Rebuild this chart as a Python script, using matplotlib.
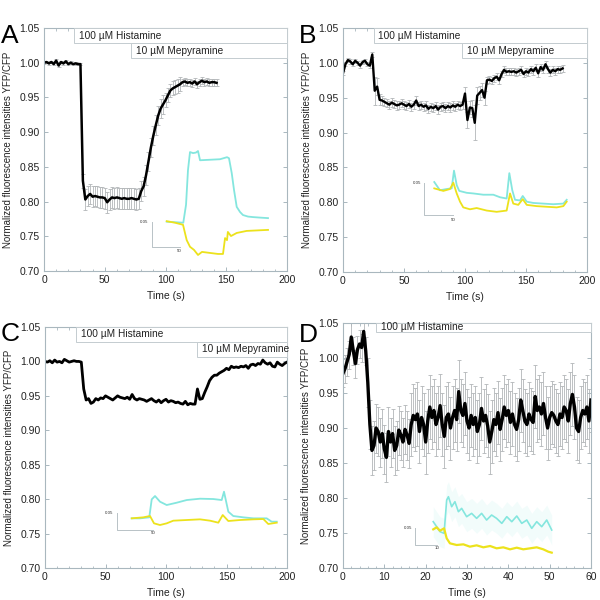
import numpy as np
import matplotlib
matplotlib.use("Agg")
import matplotlib.pyplot as plt
from matplotlib.patches import Rectangle
from matplotlib.ticker import MultipleLocator, FormatStrFormatter
import matplotlib.transforms as mtransforms

plt.rcParams['font.family'] = ['Liberation Sans', 'DejaVu Sans']

# ---- panel A: main trace (2 s steps) ----
a_time = np.arange(0, 143, 2)
a_ratio = [1.000, 1.001, 0.999, 1.001, 0.998, 1.003, 0.996, 1.001, 0.999, 1.002, 0.998, 1.000, 0.998, 0.999, 0.998, 0.998,
           0.830, 0.803, 0.808, 0.811, 0.807, 0.808, 0.807, 0.806, 0.806, 0.805, 0.799, 0.803, 0.806, 0.805, 0.806, 0.805,
           0.804, 0.805, 0.804, 0.804, 0.805, 0.804, 0.803, 0.804,
           0.815, 0.822, 0.838, 0.858, 0.878, 0.895, 0.910, 0.924, 0.934, 0.940, 0.946, 0.953, 0.960, 0.963, 0.965, 0.967,
           0.969, 0.972, 0.973, 0.971, 0.972, 0.970, 0.973, 0.969, 0.972, 0.974, 0.972, 0.973, 0.971, 0.972, 0.972, 0.971]
a_err = [0.002] * 16 + [0.010] + [0.015] * 23 + [0.014] * 10 + [0.010] * 7 + [0.005] * 15

# panel A inset (YFP cyan, CFP yellow); x in s, y in ratio units from the scale bar corner
a_cyan_t = [26.8, 41.6, 56.4, 61.3, 64.8, 68.4, 73.8, 79.0, 82.7, 86.3, 104, 122, 134.5, 138, 142.9, 147, 151.8, 157.7, 163, 172, 181, 193.4, 207.7]
a_cyan_v = [0.050, 0.049, 0.048, 0.083, 0.151, 0.186, 0.184, 0.185, 0.188, 0.170, 0.171, 0.172, 0.176, 0.174, 0.145, 0.112, 0.079, 0.069, 0.063, 0.060, 0.059, 0.058, 0.057]
a_yel_t = [26.8, 41.6, 55.9, 62.5, 68.4, 75.5, 82.7, 89.8, 104, 118.4, 127.3, 131, 134.5, 136, 141.6, 151.8, 169.6, 207.7]
a_yel_v = [0.051, 0.048, 0.044, 0.014, 0.001, -0.005, -0.015, -0.009, -0.011, -0.013, -0.013, 0.018, 0.014, 0.030, 0.022, 0.028, 0.032, 0.034]

# ---- panel B ----
b_time = np.arange(0, 181, 2)
b_ratio = [0.985, 0.998, 1.004, 1.002, 0.998, 1.003, 1.000, 0.996, 1.001, 1.003, 0.998, 0.996, 1.012,
           0.960, 0.966, 0.947, 0.946, 0.944, 0.942, 0.940, 0.943, 0.941, 0.939, 0.940, 0.942, 0.940, 0.938, 0.941,
           0.937, 0.940, 0.946, 0.938, 0.940, 0.937, 0.939, 0.934, 0.937, 0.935, 0.938, 0.933, 0.937, 0.938, 0.935,
           0.938, 0.936, 0.939, 0.937, 0.940, 0.938, 0.940, 0.956, 0.918, 0.936, 0.935, 0.914, 0.953, 0.957, 0.961,
           0.950, 0.975, 0.976, 0.974, 0.978, 0.980, 0.975, 0.984, 0.990, 0.987, 0.988, 0.987, 0.988, 0.986, 0.988,
           0.990, 0.984, 0.988, 0.986, 0.991, 0.988, 0.993, 0.985, 0.994, 0.990, 0.998, 0.991, 0.986, 0.990, 0.988,
           0.991, 0.990, 0.992]
b_err = [0.003] * 13 + [0.020, 0.012, 0.008] + [0.006] * 34 + [0.010, 0.012, 0.010, 0.012, 0.025, 0.012, 0.010, 0.010, 0.010] + [0.005] * 32

b_cyan_t = [17.2, 27, 38.6, 47.2, 51.2, 55.9, 60.3, 73.1, 84.5, 101.7, 119, 130.5, 142, 146.6, 151.7, 156.4, 165, 169.7, 176.6, 188, 205, 222.4, 239.7, 245.5]
b_cyan_v = [0.052, 0.039, 0.041, 0.042, 0.070, 0.047, 0.038, 0.035, 0.034, 0.032, 0.032, 0.028, 0.026, 0.066, 0.039, 0.024, 0.023, 0.030, 0.021, 0.019, 0.018, 0.017, 0.018, 0.024]
b_yel_t = [17.2, 32.8, 44.3, 50, 55.9, 61.6, 67.2, 78.8, 90.3, 107.6, 124.8, 142, 147.8, 153.4, 162, 169.7, 176.6, 193.8, 211, 228.3, 239.7, 245.5]
b_yel_v = [0.042, 0.038, 0.041, 0.051, 0.034, 0.021, 0.012, 0.009, 0.011, 0.007, 0.005, 0.007, 0.034, 0.018, 0.016, 0.025, 0.016, 0.014, 0.013, 0.012, 0.014, 0.021]

# ---- panel C ----
c_time = np.arange(0, 201, 2)
c_ratio = [1.000, 0.999, 1.001, 0.998, 1.002, 0.999, 1.000, 0.998, 1.003, 1.001, 0.999, 1.000, 1.001, 1.000, 1.000, 0.999,
           0.960, 0.944, 0.946, 0.939, 0.941, 0.946, 0.944, 0.947, 0.946, 0.950, 0.948, 0.946, 0.944, 0.947, 0.950,
           0.948, 0.947, 0.946, 0.948, 0.945, 0.952, 0.946, 0.944, 0.946, 0.945, 0.944, 0.942, 0.944, 0.946, 0.943,
           0.941, 0.944, 0.940, 0.943, 0.945, 0.941, 0.943, 0.942, 0.940, 0.941, 0.939, 0.938, 0.942, 0.937, 0.939,
           0.938, 0.938, 0.960, 0.945, 0.946, 0.955, 0.963, 0.972, 0.977, 0.980, 0.980, 0.983, 0.985, 0.987, 0.990,
           0.988, 0.993, 0.991, 0.992, 0.991, 0.993, 0.992, 0.994, 0.990, 0.995, 0.996, 0.994, 0.997, 0.996, 1.002,
           0.998, 0.996, 0.998, 0.993, 0.992, 0.999, 0.996, 0.994, 0.997, 0.999]

c_cyan_t = [20, 31.5, 44.4, 47.8, 52.4, 59.3, 68.6, 82.5, 96.4, 114.9, 133.3, 145, 148.2, 154.2, 161.1, 175, 189, 207.5, 214.4, 221.4]
c_cyan_v = [0.035, 0.035, 0.038, 0.092, 0.102, 0.085, 0.075, 0.082, 0.090, 0.094, 0.093, 0.090, 0.115, 0.055, 0.042, 0.038, 0.035, 0.035, 0.025, 0.025]
c_yel_t = [20, 36.1, 45.4, 51, 59.3, 68.6, 77.8, 96.4, 114.9, 128.8, 140.3, 146.4, 154.2, 170.4, 189, 202.8, 209.7, 221.4]
c_yel_v = [0.035, 0.038, 0.042, 0.020, 0.015, 0.020, 0.028, 0.030, 0.032, 0.028, 0.022, 0.045, 0.027, 0.030, 0.032, 0.033, 0.018, 0.022]

# ---- panel D (0.5 s steps) ----
d_ratio = [0.978, 0.985, 0.995, 1.005, 1.030, 1.010, 0.992, 1.012, 1.020, 1.015, 1.038, 1.010,
           0.965, 0.905, 0.868, 0.875, 0.900, 0.895, 0.880, 0.892, 0.870, 0.858, 0.895, 0.880, 0.892, 0.868,
           0.875, 0.897, 0.890, 0.880, 0.898, 0.890, 0.878, 0.905, 0.918, 0.912, 0.920, 0.895, 0.915, 0.905,
           0.880, 0.910, 0.930, 0.915, 0.925, 0.905, 0.915, 0.932, 0.905, 0.888, 0.915, 0.920, 0.900, 0.915,
           0.925, 0.912, 0.952, 0.925, 0.918, 0.935, 0.910, 0.900, 0.918, 0.905, 0.915, 0.895, 0.905, 0.928,
           0.910, 0.918, 0.903, 0.880, 0.895, 0.912, 0.905, 0.922, 0.898, 0.912, 0.930, 0.918, 0.925, 0.908,
           0.920, 0.905, 0.898, 0.912, 0.940, 0.925, 0.910, 0.905, 0.920, 0.912, 0.908, 0.945, 0.925, 0.930,
           0.920, 0.935, 0.915, 0.900, 0.915, 0.922, 0.918, 0.910, 0.905, 0.920, 0.915, 0.930, 0.925, 0.910,
           0.935, 0.948, 0.930, 0.900, 0.895, 0.915, 0.925, 0.920, 0.930, 0.910, 0.940]
d_time = np.arange(len(d_ratio)) * 0.5
d_err = [0.020] * 12 + [0.035] * 21 + [0.045] * (len(d_ratio) - 33)

d_cyan_t = [8.4, 10, 11.5, 13.4, 14.6, 15.4, 16.9, 18.4, 20, 21.5, 23.8, 26.1, 28.4, 30.7, 33, 35.3, 37.6, 40, 42.3, 44.6, 46.9, 49.2, 51.5, 53.8, 56.1, 58.4, 60.7, 63]
d_cyan_v = [0.070, 0.055, 0.040, 0.035, 0.135, 0.145, 0.115, 0.130, 0.100, 0.110, 0.085, 0.095, 0.080, 0.095, 0.075, 0.090, 0.080, 0.065, 0.085, 0.070, 0.087, 0.065, 0.075, 0.050, 0.070, 0.055, 0.075, 0.045]
d_yel_t = [8.4, 10, 11.5, 13.4, 14.6, 16.1, 19.2, 22.3, 25.3, 28.4, 31.5, 34.6, 37.6, 40.7, 43.8, 46.9, 49.9, 53, 56.1, 59.1, 61.4, 63]
d_yel_v = [0.047, 0.053, 0.043, 0.050, 0.020, 0.005, 0.000, 0.002, -0.005, -0.001, -0.007, -0.003, -0.010, -0.007, -0.013, -0.008, -0.013, -0.010, -0.007, -0.013, -0.020, -0.023]

FIG_PX = 600
CYAN = '#84e6de'
YELLOW = '#ece21c'
FRAME = '#a9b7be'
ERRC = '#b2b6b8'

fig = plt.figure(figsize=(6, 6), dpi=100)


def px_rect(left, right, top, bottom):
    return [left / FIG_PX, 1 - bottom / FIG_PX, (right - left) / FIG_PX, (bottom - top) / FIG_PX]


def style_axes(ax, xmax, xmajor, xminor):
    ax.set_xlim(0, xmax)
    ax.set_ylim(0.70, 1.05)
    ax.xaxis.set_major_locator(MultipleLocator(xmajor))
    ax.xaxis.set_minor_locator(MultipleLocator(xminor))
    ax.yaxis.set_major_locator(MultipleLocator(0.05))
    ax.yaxis.set_major_formatter(FormatStrFormatter('%.2f'))
    ax.tick_params(which='both', direction='in', top=True, right=True, color=FRAME,
                   labelsize=7.5, labelcolor='#222222', pad=3)
    ax.tick_params(which='major', length=3, width=0.7)
    ax.tick_params(which='minor', length=1.8, width=0.6)
    for s in ax.spines.values():
        s.set_color(FRAME)
        s.set_linewidth(0.8)
    ax.set_xlabel('Time (s)', fontsize=7.5, color='#222222', labelpad=4.5)
    ax.set_ylabel('Normalized fluorescence intensities YFP/CFP', fontsize=7, color='#222222')
    ax.yaxis.set_label_coords(-0.128, 0.5)


def drug_box(ax, x0, row, text, h=0.062):
    trans = mtransforms.blended_transform_factory(ax.transData, ax.transAxes)
    y1 = 1 - row * h
    x1 = ax.get_xlim()[1]
    ax.add_patch(Rectangle((x0, y1 - h), x1 - x0, h, transform=trans, facecolor='white',
                           edgecolor='#c4ccd0', linewidth=0.7, zorder=5, clip_on=False))
    ax.text(x0 + (x1 * 0.02), y1 - h / 2, text, transform=trans, fontsize=7.3,
            va='center', ha='left', color='#222222', zorder=6)


def add_inset(ox, oy, sx, sy, xlim, ylim, xbar, ybar, xlabel, ylabel):
    # ox, oy: pixel of the scale bar corner; sx, sy: pixels per data unit
    left = ox + xlim[0] * sx
    right = ox + xlim[1] * sx
    top = oy - ylim[1] * sy
    bottom = oy - ylim[0] * sy
    ins = fig.add_axes(px_rect(left, right, top, bottom))
    ins.set_xlim(xlim)
    ins.set_ylim(ylim)
    ins.axis('off')
    ins.patch.set_alpha(0)
    ins.plot([0, 0, xbar], [ybar, 0, 0], color='#b8c2c6', lw=0.7)
    ins.text(-xbar * 0.12, ybar, ylabel, fontsize=3.2, ha='right', va='center', color='#333333')
    ins.text(xbar, -ybar * 0.08, xlabel, fontsize=3.2, ha='center', va='top', color='#333333')
    return ins


# ---- A ----
axA = fig.add_axes(px_rect(44, 287, 28, 271))
style_axes(axA, 200, 50, 10)
axA.errorbar(a_time, a_ratio, yerr=a_err, fmt='none', ecolor=ERRC, elinewidth=0.6, capsize=1.2, capthick=0.6)
axA.plot(a_time, a_ratio, color='black', lw=1.8)
drug_box(axA, 25, 0, '100 \u00b5M Histamine')
drug_box(axA, 72, 1, '10 \u00b5M Mepyramine')
insA = add_inset(151.7, 247.3, 0.56, 512, (-25, 215), (-0.03, 0.2), 50, 0.05, '50', '0.05')
insA.plot(a_cyan_t, a_cyan_v, color=CYAN, lw=1.3)
insA.plot(a_yel_t, a_yel_v, color=YELLOW, lw=1.3)

# ---- B ----
axB = fig.add_axes(px_rect(343, 587, 28, 272))
style_axes(axB, 200, 50, 10)
axB.errorbar(b_time, b_ratio, yerr=b_err, fmt='none', ecolor=ERRC, elinewidth=0.6, capsize=1.2, capthick=0.6)
axB.plot(b_time, b_ratio, color='black', lw=1.7)
drug_box(axB, 25, 0, '100 \u00b5M Histamine')
drug_box(axB, 97.5, 1, '10 \u00b5M Mepyramine')
insB = add_inset(424.3, 215, 0.58, 634, (-25, 255), (-0.01, 0.08), 50, 0.05, '50', '0.05')
insB.plot(b_cyan_t, b_cyan_v, color=CYAN, lw=1.3)
insB.plot(b_yel_t, b_yel_v, color=YELLOW, lw=1.3)

# ---- C ----
axC = fig.add_axes(px_rect(45, 287, 327, 568))
style_axes(axC, 200, 50, 10)
axC.plot(c_time, c_ratio, color='black', lw=2.0)
drug_box(axC, 25.6, 0, '100 \u00b5M Histamine')
drug_box(axC, 125.6, 1, '10 \u00b5M Mepyramine')
insC = add_inset(117.3, 530, 0.72, 333, (-25, 230), (-0.01, 0.13), 50, 0.05, '50', '0.05')
insC.plot(c_cyan_t, c_cyan_v, color=CYAN, lw=1.3)
insC.plot(c_yel_t, c_yel_v, color=YELLOW, lw=1.3)

# ---- D ----
axD = fig.add_axes(px_rect(343, 591, 323, 568))
style_axes(axD, 60, 10, 2)
axD.errorbar(d_time, d_ratio, yerr=d_err, fmt='none', ecolor=ERRC, elinewidth=0.6, capsize=1.2, capthick=0.6)
axD.plot(d_time, d_ratio, color='black', lw=2.4)
drug_box(axD, 8, 0, '100 \u00b5M Histamine', h=0.036)
insD = add_inset(415, 545, 2.17, 333, (-8, 66), (-0.04, 0.2), 10, 0.05, '10', '0.05')
insD.fill_between(d_cyan_t, np.array(d_cyan_v) - 0.045, np.array(d_cyan_v) + 0.045, color=CYAN, alpha=0.1, lw=0)
insD.plot(d_cyan_t, d_cyan_v, color=CYAN, lw=1.2)
insD.plot(d_yel_t, d_yel_v, color=YELLOW, lw=1.6)

# panel letters
for letter, xp, yp in [('A', 1, 43), ('B', 299, 43), ('C', 1, 341), ('D', 299, 342)]:
    fig.text(xp / FIG_PX, 1 - yp / FIG_PX, letter, fontsize=19, ha='left', va='baseline', color='black')

fig.savefig('out.png', dpi=100)
